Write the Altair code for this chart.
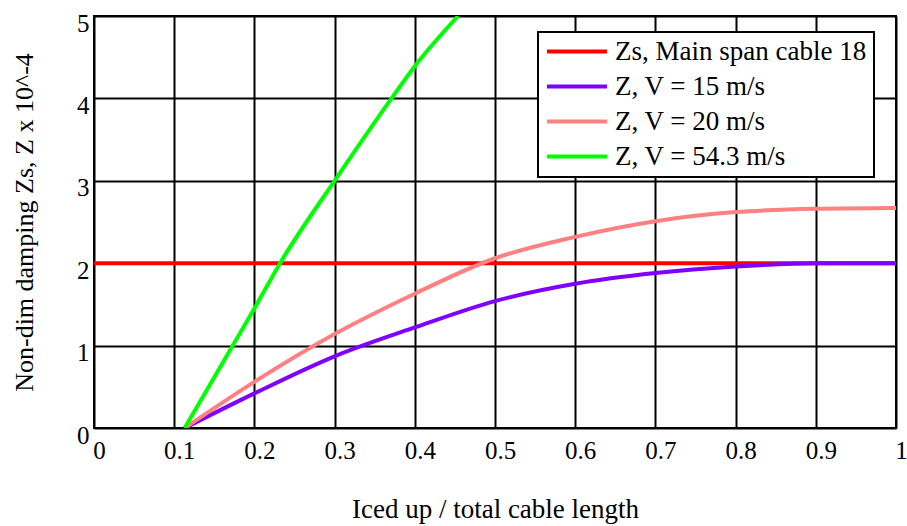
import altair as alt
import pandas as pd

# Main span cable reference level (Zs)
ratio_zs = [0.0, 1.0]
z_zs = [2.0, 2.0]

# Non-dimensional damping for three wind speeds, vs iced-up fraction of cable length
ratio_v15 = [0.113, 0.2, 0.3, 0.4, 0.5, 0.6, 0.7, 0.8, 0.9, 1.0]
z_v15 = [0.0, 0.42, 0.87, 1.22, 1.54, 1.75, 1.88, 1.96, 2.0, 2.0]

ratio_v20 = [0.113, 0.2, 0.3, 0.4, 0.5, 0.6, 0.7, 0.8, 0.9, 1.0]
z_v20 = [0.0, 0.56, 1.14, 1.63, 2.06, 2.32, 2.51, 2.62, 2.66, 2.67]

ratio_v543 = [0.113, 0.173, 0.2, 0.232, 0.3, 0.371, 0.4, 0.454]
z_v543 = [0.0, 1.0, 1.45, 2.0, 3.0, 4.0, 4.39, 5.0]

series_names = [
    "Zs, Main span cable 18",
    "Z, V = 15 m/s",
    "Z, V = 20 m/s",
    "Z, V = 54.3 m/s",
]
series_colors = ["#ff0000", "#8000ff", "#ff8080", "#00ff00"]

x_ticks = [0, 0.1, 0.2, 0.3, 0.4, 0.5, 0.6, 0.7, 0.8, 0.9, 1]
y_ticks = [0, 1, 2, 3, 4, 5]

rows = []
for name, xs, ys in zip(
    series_names,
    [ratio_zs, ratio_v15, ratio_v20, ratio_v543],
    [z_zs, z_v15, z_v20, z_v543],
):
    for i, (xv, yv) in enumerate(zip(xs, ys)):
        rows.append({"ratio": xv, "z": yv, "series": name, "idx": i})
df = pd.DataFrame(rows)

FONT = "Liberation Serif"

chart = (
    alt.Chart(df)
    .mark_line(strokeWidth=4, interpolate="monotone", clip=True)
    .encode(
        x=alt.X(
            "ratio:Q",
            scale=alt.Scale(domain=[0, 1], nice=False, zero=False),
            axis=alt.Axis(
                values=x_ticks,
                format="~g",
                title="Iced up / total cable length",
                labelFont=FONT,
                labelFontSize=25,
                labelFlush=False,
                labelOffset=5,
                labelPadding=10,
                titleFont=FONT,
                titleFontSize=27,
                titleX=401,
                titleY=81,
                titleBaseline="middle",
            ),
        ),
        y=alt.Y(
            "z:Q",
            scale=alt.Scale(domain=[0, 5], nice=False),
            axis=alt.Axis(
                values=y_ticks,
                title="Non-dim damping Zs, Z x 10^-4",
                labelFont=FONT,
                labelFontSize=25,
                labelBaseline="top",
                labelPadding=5,
                labelOffset=-5,
                titleFont=FONT,
                titleFontSize=26,
                titleX=-70,
                titleY=206,
                titleAngle=270,
                titleAlign="center",
                titleBaseline="middle",
            ),
        ),
        color=alt.Color(
            "series:N",
            scale=alt.Scale(domain=series_names, range=series_colors),
            legend=alt.Legend(title=None),
        ),
        order=alt.Order("idx:Q"),
    )
    .properties(
        width=802,
        height=412,
        autosize=alt.AutoSizeParams(type="none"),
        padding={"left": 94, "top": 16, "right": 11, "bottom": 98},
    )
    .configure_view(stroke="black", strokeWidth=2)
    .configure_axis(
        labelColor="black",
        titleFontWeight="normal",
        titleColor="black",
        grid=True,
        gridColor="black",
        gridWidth=2,
        gridOpacity=1,
        domain=False,
        ticks=False,
    )
    .configure_legend(
        orient="none",
        legendX=444,
        legendY=16,
        padding=7,
        fillColor="white",
        strokeColor="black",
        strokeWidth=2,
        symbolType="stroke",
        symbolSize=3600,
        symbolStrokeWidth=4,
        clipHeight=25,
        rowPadding=7,
        labelOffset=6,
        labelFont=FONT,
        labelFontSize=27,
        labelColor="black",
        labelLimit=400,
    )
)

chart.save("out.html", embed_options={"renderer": "svg", "actions": False})
